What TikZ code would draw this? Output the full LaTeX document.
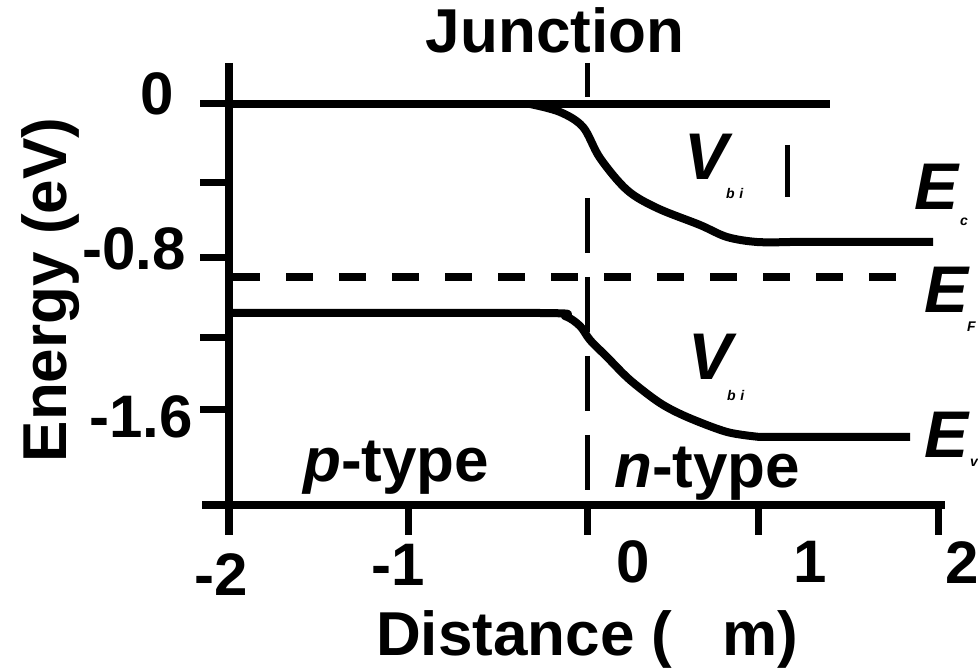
\documentclass[tikz,border=0pt]{standalone}
\usepackage{fontspec}
\setmainfont{Liberation Sans}
\usetikzlibrary{positioning}
\tikzset{
  axisln/.style ={line width=8.5pt},
  tickln/.style ={line width=7pt},
  band/.style   ={line width=8pt, line join=round},
  fermi/.style  ={line width=7.5pt, dash pattern=on 27pt off 26pt},
  jline/.style  ={line width=5pt, dash pattern=on 55pt off 24pt},
  lbl/.style    ={inner sep=0pt, font=\fontsize{62}{62}\selectfont\bfseries},
  num/.style    ={inner sep=0pt, font=\fontsize{60}{60}\selectfont\bfseries},
  sym/.style    ={inner sep=0pt, font=\fontsize{66}{66}\selectfont\bfseries\itshape},
  sub/.style    ={inner sep=0pt, font=\fontsize{14}{14}\selectfont\bfseries\itshape},
}
\begin{document}
\begin{tikzpicture}[x=1pt, y=-1pt]
  \useasboundingbox (0,0) rectangle (978,668);

  % axes
  \draw[axisln] (229,63) -- (229,535);
  \draw[axisln] (202,505) -- (945,505);
  \foreach \ty in {104,183,258,338,410}
    \draw[tickln] (200,\ty) -- (229,\ty);
  \foreach \tx in {408,587,758,938}
    \draw[tickln] (\tx,505) -- (\tx,535);

  % tick labels
  \node[num, anchor=base east] (y0)  at (174,115) {0};
  \node[num, anchor=base east] (y1)  at (186,270) {-0.8};
  \node[num, anchor=base east] (y2)  at (193,438) {-1.6};
  \node[num, anchor=base] (x0) at (221,595) {-2};
  \node[num, anchor=base] (x1) at (398,585) {-1};
  \node[num, anchor=base] (x2) at (633,582) {0};
  \node[num, anchor=base] (x3) at (810,582) {1};
  \node[num, anchor=base] (x4) at (962,583) {2};

  % axis titles
  \node[lbl, anchor=base, rotate=90] (ylab) at (66,290) {Energy (eV)};
  \node[lbl, anchor=base west] (xlab) at (376,655) {Distance (\hspace{50pt}m)};
  \node[lbl, anchor=base] (junc) at (555,53) {Junction};

  % junction line
  \draw[jline] (587,63) -- (587,97);
  \draw[jline] (587,198) -- (587,492);

  % conduction band
  \draw[band] (229,104) -- (830,104);
  \draw[band] plot[smooth, tension=0.55] coordinates {(530,104) (560,112) (583,127)
       (600,158) (627,190) (657,208) (700,225) (727,237) (757,242) (790,242)} -- (933,242);

  % Fermi level
  \draw[fermi] (233,277) -- (900,277);

  % valence band
  \draw[band] plot[smooth, tension=0.5] coordinates {(229,313) (540,313) (565,316)
       (580,326) (590,340) (607,357) (630,380) (660,403) (687,417) (727,432) (760,437)} -- (910,437);

  % built-in potential marks
  \draw[line width=5pt] (787,145) -- (787,197);
  \node[sym, anchor=base west] (vup) at (684,180) {V};
  \node[sub, anchor=base west] (vups) at (726,199) {b\,\,i};
  \node[sym, anchor=base west] (vlo) at (688,380) {V};
  \node[sub, anchor=base west] (vlos) at (727,401) {b\,\,i};

  % band names
  \node[sym, anchor=base west] (ec) at (914,210) {E};
  \node[sub, anchor=base west] (ecs) at (960,226) {c};
  \node[sym, anchor=base west] (ef) at (924,313) {E};
  \node[sub, anchor=base west] (efs) at (967,332) {F};
  \node[sym, anchor=base west] (ev) at (924,457) {E};
  \node[sub, anchor=base west] (evs) at (970,467) {v};

  % regions
  \node[lbl, anchor=base west] (ptype) at (303,481) {\textit{p}-type};
  \node[lbl, anchor=base west] (ntype) at (614,487) {\textit{n}-type};
\end{tikzpicture}
\end{document}
